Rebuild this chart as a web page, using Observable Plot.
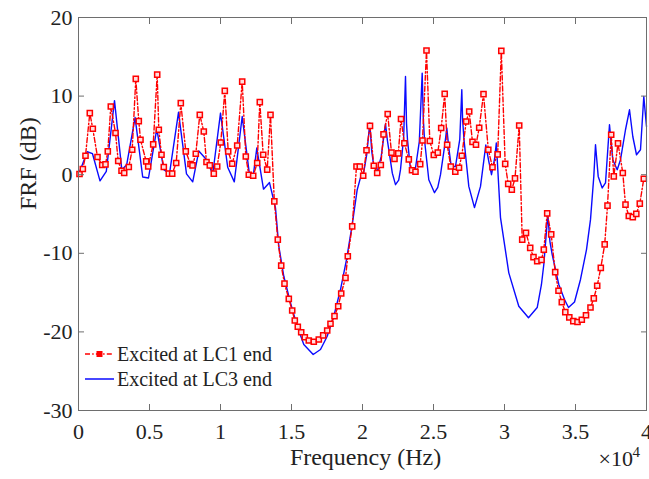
<!DOCTYPE html>
<html><head><meta charset="utf-8">
<script src="https://cdn.jsdelivr.net/npm/d3@7"></script>
<script src="https://cdn.jsdelivr.net/npm/@observablehq/plot@0.6"></script>
<style>
body{margin:0;background:#fff;}
#chart{position:relative;width:649px;height:479px;}
</style></head><body><div id="chart"></div>
<script>
// Series: [frequency (Hz), FRF (dB)]
const lc1 = [[70,0.09],[305,0.72],[493,2.41],[796,7.84],[1007,5.84],[1338,2.25],[1669,1.23],[1901,1.31],[2063,2.96],[2275,8.68],[2606,5.30],[2796,1.74],[3030,0.5],[3218,0.22],[3542,0.98],[3782,3.18],[4035,12.19],[4246,6.82],[4366,4.45],[4768,1.69],[4908,1.05],[5261,3.85],[5542,12.74],[5655,5.72],[5845,2.54],[6007,0.98],[6359,0.13],[6598,0.13],[6880,1.49],[7204,9.11],[7556,2.96],[7887,1.36],[8028,1.18],[8260,2.67],[8542,7.62],[8824,5.50],[9014,1.61],[9246,1.18],[9528,0.13],[9767,1.05],[10021,4.10],[10303,10.67],[10542,2.96],[10824,1.40],[11176,3.72],[11528,11.85],[11782,2.32],[11993,0.0],[12303,-0.13],[12585,1.49],[12768,9.23],[13007,2.54],[13289,0.64],[13521,7.62],[13790,-3.39],[14035,-8.26],[14275,-11.56],[14507,-13.85],[14810,-15.79],[15049,-17.28],[15232,-18.55],[15444,-19.35],[15683,-20.04],[15937,-20.68],[16218,-21.09],[16570,-21.25],[16923,-20.96],[17232,-20.45],[17514,-19.82],[17746,-18.97],[18028,-18.00],[18289,-16.73],[18500,-15.12],[18803,-13.12],[18965,-10.38],[19275,-6.57],[19577,1.05],[19810,1.05],[20049,-0.13],[20282,3.11],[20528,6.22],[20796,1.14],[21035,0.22],[21289,1.23],[21479,5.13],[21775,7.72],[22042,2.80],[22253,2.01],[22521,2.71],[22711,7.09],[22950,4.0],[23261,1.95],[23486,0.57],[23732,0.38],[24063,1.34],[24225,4.35],[24507,15.80],[24739,4.29],[25021,2.50],[25303,2.80],[25542,5.94],[25789,10.28],[25962,3.81],[26218,1.05],[26535,0.38],[26796,0.89],[26993,2.41],[27303,6.77],[27514,8.04],[27746,4.17],[27993,3.81],[28218,5.97],[28521,10.25],[28859,3.18],[29155,0.95],[29521,2.58],[29775,15.75],[30049,1.37],[30261,-1.17],[30514,-1.91],[30739,-0.47],[31035,6.26],[31247,-8.26],[31514,-7.40],[31810,-9.31],[32042,-10.48],[32303,-11.01],[32606,-10.84],[32768,-9.53],[33007,-4.92],[33289,-7.59],[33570,-12.39],[33803,-14.76],[34035,-16.21],[34282,-17.48],[34563,-18.16],[34845,-18.63],[35141,-18.74],[35444,-18.45],[35739,-17.88],[36056,-16.90],[36289,-15.74],[36528,-14.13],[36782,-11.85],[37056,-8.86],[37254,-3.94],[37514,5.08],[37697,-0.22],[37993,3.98],[38331,0.22],[38521,-3.81],[38754,-5.25],[39035,-5.40],[39282,-4.98],[39528,-3.68],[39810,-0.51]];

const lc3 = [[0,0.0],[613,2.92],[986,2.67],[1514,-0.79],[1958,0.42],[2535,9.42],[3049,0.64],[3394,1.27],[3986,7.27],[4521,-0.29],[4929,-0.42],[5514,5.82],[6007,0.64],[6408,0.13],[7042,7.94],[7606,0.10],[8042,-0.91],[8472,3.01],[9035,1.87],[9451,0.06],[10000,7.84],[10507,0.95],[10972,-0.91],[11528,7.40],[12028,0.17],[12289,-0.38],[12556,3.39],[13028,-1.84],[13451,-1.00],[13873,-4.23],[14106,-9.11],[14458,-12.92],[14930,-16.30],[15401,-19.27],[15866,-21.60],[16528,-22.87],[17042,-22.24],[17514,-20.55],[17979,-18.00],[18451,-14.61],[18873,-10.80],[19275,-6.35],[19627,-1.91],[19859,-0.38],[20070,0.13],[20300,2.6],[20514,6.57],[20650,3.0],[20796,1.05],[21035,0.38],[21317,2.29],[21620,6.48],[21750,4.4],[21852,3.18],[22100,0.2],[22324,-1.27],[22550,-0.7],[22676,0.64],[22900,4.8],[23028,12.49],[23100,6.5],[23169,4.45],[23380,0.64],[23550,0.3],[23732,0.85],[24000,4.2],[24204,12.92],[24280,7.2],[24366,4.45],[24669,-0.64],[25070,-2.29],[25300,-1.6],[25493,0.0],[25780,3.6],[25937,5.94],[26080,3.4],[26246,1.05],[26549,1.05],[26850,4.5],[26993,10.80],[27050,7.0],[27148,4.45],[27486,-1.49],[27887,-4.19],[28310,-1.49],[28683,3.77],[28894,1.69],[29085,0.0],[29300,2.0],[29423,4.03],[29718,-5.46],[30303,-12.49],[31007,-16.73],[31690,-18.20],[32303,-16.90],[32600,-14.0],[32768,-11.43],[33049,-5.08],[33200,-8.5],[33359,-10.16],[33824,-13.97],[34225,-15.88],[34507,-16.90],[34930,-16.19],[35352,-13.33],[35775,-9.53],[36056,-5.72],[36289,-0.22],[36409,3.81],[36599,-0.22],[36880,-1.69],[37113,-1.05],[37394,6.35],[37627,1.91],[37937,0.64],[38169,1.91],[38521,5.72],[38803,8.26],[39035,4.86],[39296,2.54],[39577,3.18],[39810,9.94],[40000,6.13]];

const seriesNames = ["Excited at LC1 end", "Excited at LC3 end"];
const xTicks = [0, 5000, 10000, 15000, 20000, 25000, 30000, 35000, 40000];
const xTickLabels = ["0", "0.5", "1", "1.5", "2", "2.5", "3", "3.5", "4"];
const yTicks = [-30, -20, -10, 0, 10, 20];
const xLabel = "Frequency (Hz)";
const yLabel = "FRF (dB)";
const xExponentBase = "×10";
const xExponent = "4";

const red = "#ff0000", blue = "#0a0aff";
const axisColor = "#6e6e6e", textColor = "#222";
const font = '"Liberation Serif","Times New Roman",serif';
const dash = "5,2.2,1.5,2.2";

const chart = Plot.plot({
  width: 649, height: 479,
  marginLeft: 78, marginRight: 3, marginTop: 17, marginBottom: 69,
  style: {fontFamily: font, background: "#fff", overflow: "visible"},
  x: {domain: [0, 40000]},
  y: {domain: [-30, 20]},
  marks: [
    Plot.line(lc3, {x: d => d[0], y: d => d[1], stroke: blue, strokeWidth: 1.4}),
    Plot.line(lc1, {x: d => d[0], y: d => d[1], stroke: red, strokeWidth: 1.4, strokeDasharray: dash}),
    Plot.dot(lc1, {x: d => d[0], y: d => d[1], symbol: "square", r: 2.9, stroke: red, fill: "#ffdede", strokeWidth: 1.5}),
    Plot.frame({stroke: axisColor}),
    Plot.axisX(xTicks, {anchor: "bottom", tickSize: 0, tickPadding: 13, tickFormat: d => xTickLabels[xTicks.indexOf(d)], fontSize: 22, color: textColor, label: null}),
    Plot.axisX(xTicks, {anchor: "bottom", tickSize: -6, tickFormat: () => "", stroke: axisColor, label: null}),
    Plot.axisX(xTicks, {anchor: "top", tickSize: -6, tickFormat: () => "", stroke: axisColor, label: null}),
    Plot.axisY(yTicks, {anchor: "left", tickSize: 0, tickPadding: 6, tickFormat: d => String(d), fontSize: 22, color: textColor, label: null}),
    Plot.axisY(yTicks, {anchor: "left", tickSize: -6, tickFormat: () => "", stroke: axisColor, label: null}),
    Plot.axisY(yTicks, {anchor: "right", tickSize: -6, tickFormat: () => "", stroke: axisColor, label: null}),
    Plot.text([xLabel], {text: d => d, frameAnchor: "bottom", dx: 3, dy: 54, fontSize: 24, fill: textColor}),
    Plot.text([yLabel], {text: d => d, frameAnchor: "left", dx: -50, dy: -4, rotate: -90, fontSize: 24, fill: textColor}),
    Plot.text([xExponentBase], {text: d => d, frameAnchor: "bottom-right", dx: -48, dy: 55, textAnchor: "start", fontSize: 22, fill: textColor}),
    Plot.text([xExponent], {text: d => d, frameAnchor: "bottom-right", dx: -14, dy: 46, textAnchor: "start", fontSize: 15, fill: textColor})
  ]
});

// Legend (inside the plot, no box)
const svg = d3.select(chart);
const lg = svg.append("g").attr("font-family", font).attr("font-size", 20).attr("fill", textColor).attr("text-anchor", "start");
const rows = [
  {name: seriesNames[0], color: red, dash: dash, marker: true, y: 354},
  {name: seriesNames[1], color: blue, dash: null, marker: false, y: 379}
];
rows.forEach(r => {
  lg.append("line").attr("x1", 85).attr("x2", 114).attr("y1", r.y).attr("y2", r.y)
    .attr("stroke", r.color).attr("stroke-width", 1.5).attr("stroke-dasharray", r.dash);
  if (r.marker) lg.append("rect").attr("x", 96.5).attr("y", r.y - 3).attr("width", 6).attr("height", 6).attr("fill", r.color);
  lg.append("text").attr("x", 117).attr("y", r.y + 7).attr("text-anchor", "start").text(r.name);
});

document.getElementById("chart").appendChild(chart);
</script>
</body></html>
